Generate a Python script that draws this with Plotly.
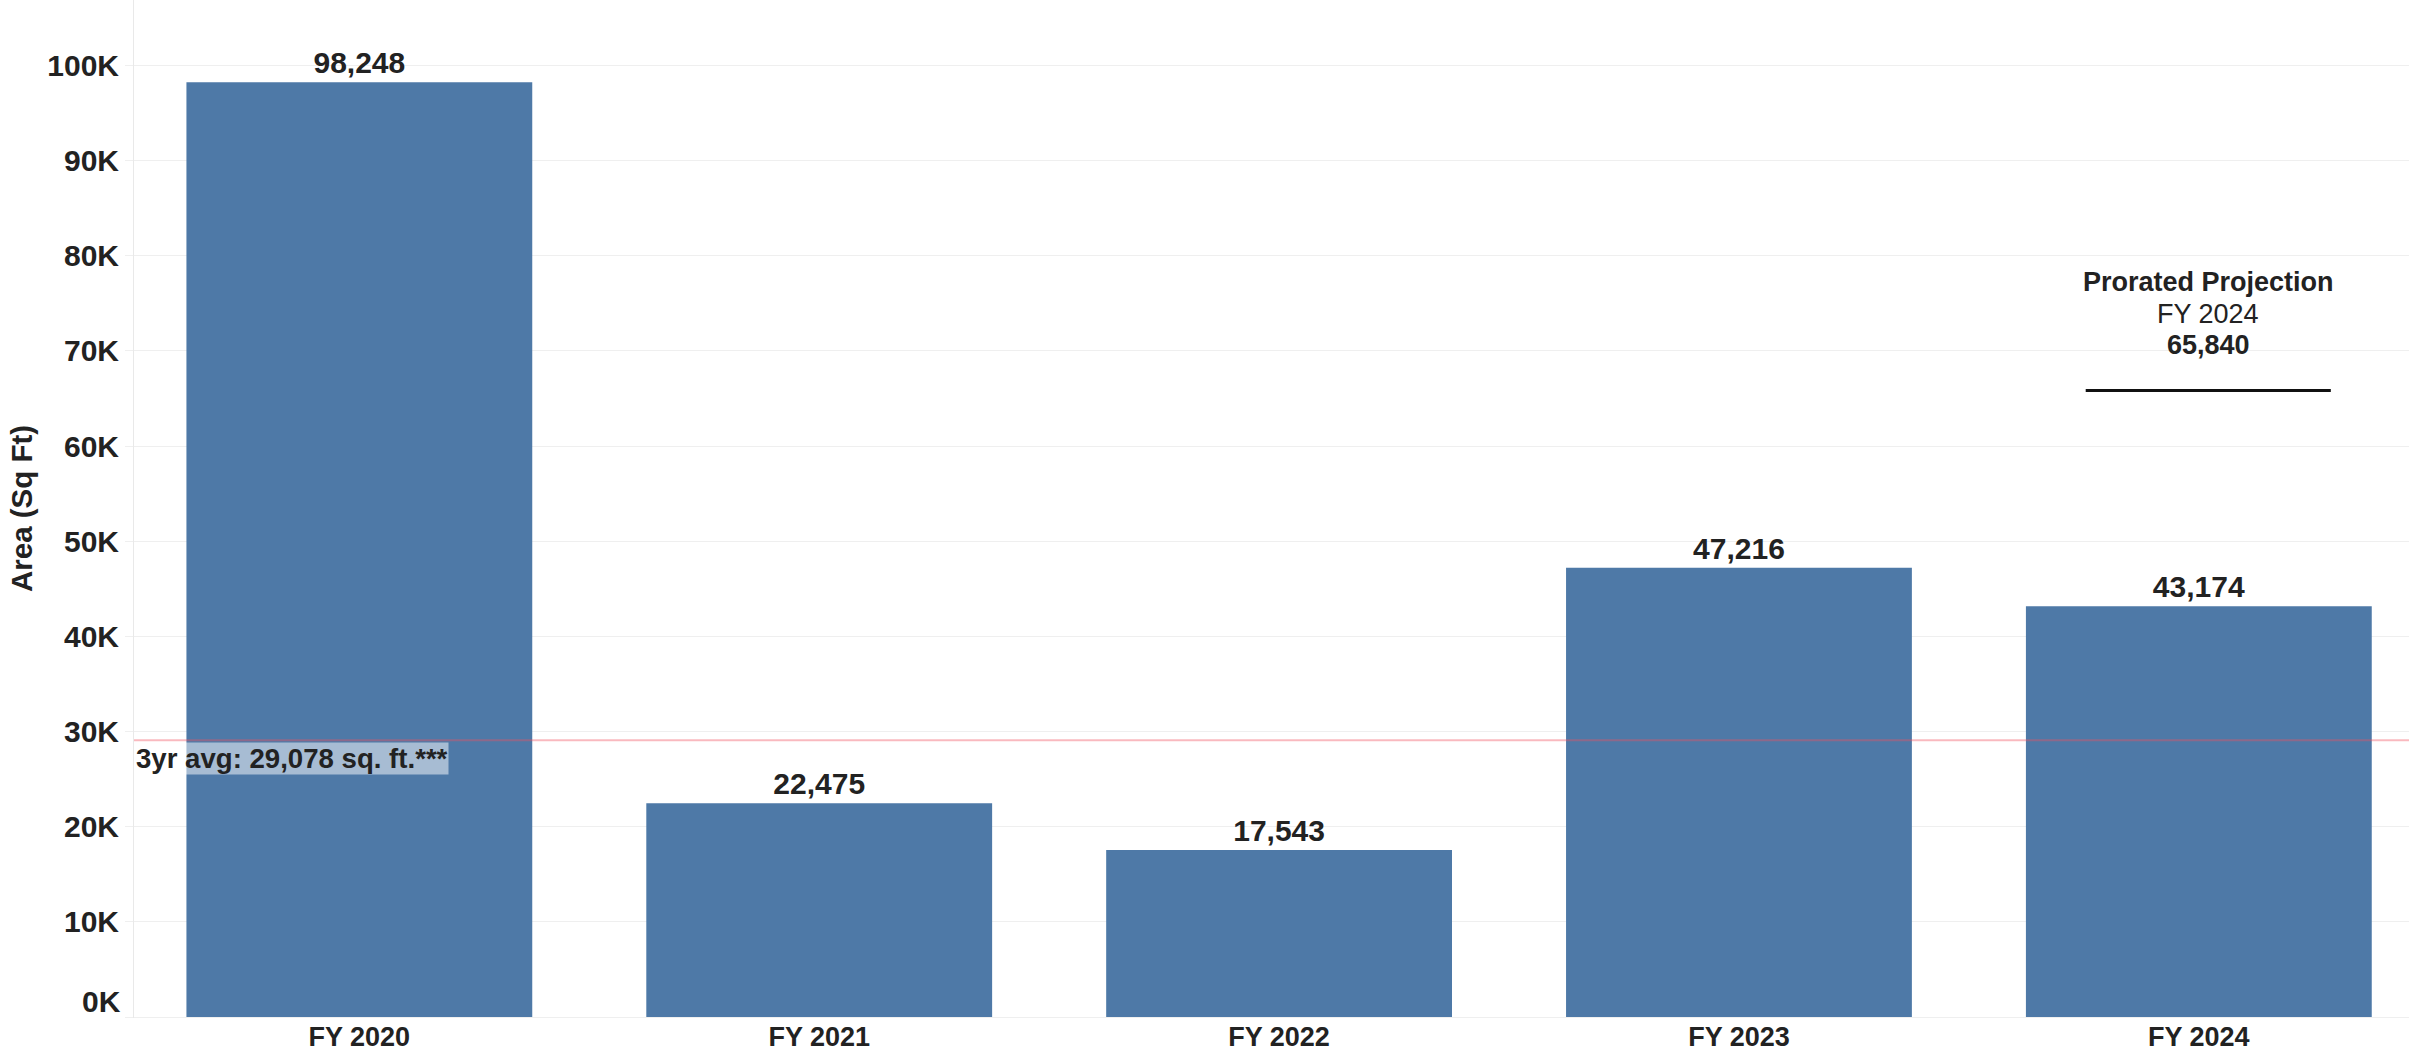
import plotly.graph_objects as go

# ---- data ----
categories = ["FY 2020", "FY 2021", "FY 2022", "FY 2023", "FY 2024"]
area_sqft = [98248, 22475, 17543, 47216, 43174]
avg_3yr = 29078
avg_label = "3yr avg: 29,078 sq. ft.***"
projection_year = "FY 2024"
projection_value = 65840
tick_values = [0, 10000, 20000, 30000, 40000, 50000, 60000, 70000, 80000, 90000, 100000]
tick_labels = ["0K", "10K", "20K", "30K", "40K", "50K", "60K", "70K", "80K", "90K", "100K"]

FONT = "Liberation Sans, Arial, Helvetica, sans-serif"
TXT = "#222222"
BAR = "#4e79a7"
GRID = "#efefef"

fig = go.Figure()
fig.add_trace(go.Bar(
    x=list(range(len(categories))),
    y=area_sqft,
    marker=dict(color=BAR, line=dict(width=0)),
    width=0.752,
    text=[f"{v:,}" for v in area_sqft],
    textposition="outside",
    textfont=dict(family=FONT, size=30, color=TXT, weight="bold"),
    cliponaxis=False,
    hoverinfo="skip",
))

proj_idx = categories.index(projection_year)

# average reference line
fig.add_shape(type="line", xref="paper", x0=0, x1=1, yref="y", y0=avg_3yr, y1=avg_3yr,
              line=dict(color="rgba(240,80,95,0.4)", width=2), layer="above")
fig.add_annotation(xref="paper", x=0.0005, yref="y", y=avg_3yr, xanchor="left", yanchor="top",
                   yshift=-2, text=f"<b>{avg_label}</b>", showarrow=False,
                   font=dict(family=FONT, size=27.6, color=TXT),
                   bgcolor="rgba(255,255,255,0.5)", borderpad=0)

# projection line + label
fig.add_shape(type="line", xref="x", x0=proj_idx - 0.246, x1=proj_idx + 0.287,
              yref="y", y0=projection_value, y1=projection_value,
              line=dict(color="#111111", width=3))
cx = proj_idx + 0.02
fig.add_annotation(x=cx, y=projection_value, yanchor="middle", yshift=109,
                   text="<b>Prorated Projection</b>", showarrow=False,
                   font=dict(family=FONT, size=27, color=TXT))
fig.add_annotation(x=cx, y=projection_value, yanchor="middle", yshift=77,
                   text=projection_year, showarrow=False,
                   font=dict(family=FONT, size=27, color=TXT))
fig.add_annotation(x=cx, y=projection_value, yanchor="middle", yshift=46,
                   text=f"<b>{projection_value:,}</b>", showarrow=False,
                   font=dict(family=FONT, size=27, color=TXT))

# y axis title
fig.add_annotation(xref="paper", x=(21 - 134) / 2275, yref="paper", y=0.5,
                   text="<b>Area (Sq Ft)</b>", textangle=-90, showarrow=False,
                   xanchor="center", yanchor="middle",
                   font=dict(family=FONT, size=29.5, color=TXT))

# lowest tick label sits slightly above its gridline (kept inside the view)
fig.add_annotation(xref="paper", x=-11 / 2275, yref="y", y=tick_values[0],
                   xanchor="right", yanchor="middle", yshift=16,
                   text=f"<b>{tick_labels[0]}</b>", showarrow=False,
                   font=dict(family=FONT, size=30, color=TXT))
shown_labels = [""] + tick_labels[1:]

fig.update_layout(
    width=2409, height=1052,
    margin=dict(l=134, r=0, t=0, b=34, autoexpand=False),
    paper_bgcolor="white", plot_bgcolor="white",
    showlegend=False,
    font=dict(family=FONT, color=TXT),
    xaxis=dict(
        tickmode="array", tickvals=list(range(len(categories))), ticktext=categories,
        range=[-0.49, 4.457], showgrid=False, zeroline=False, showline=False,
        ticks="", tickfont=dict(family=FONT, size=27, color=TXT, weight="bold"),
        fixedrange=True,
    ),
    yaxis=dict(
        tickmode="array", tickvals=tick_values, ticktext=shown_labels,
        range=[-105, 106884], showgrid=True, gridcolor=GRID, gridwidth=1,
        zeroline=True, zerolinecolor=GRID, zerolinewidth=1,
        showline=True, linecolor="#e9e9e9", linewidth=1,
        ticks="outside", ticklen=8, tickcolor=GRID,
        tickfont=dict(family=FONT, size=30, color=TXT, weight="bold"),
        fixedrange=True,
    ),
)

fig.write_html("out.html", config={"displayModeBar": False})
